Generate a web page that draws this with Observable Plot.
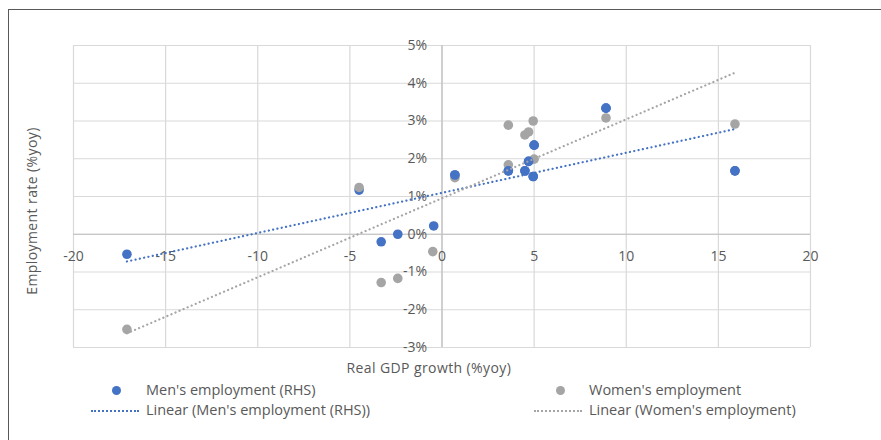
<!DOCTYPE html>
<html>
<head>
<meta charset="utf-8">
<script src="https://cdn.jsdelivr.net/npm/d3@7"></script>
<script src="https://cdn.jsdelivr.net/npm/@observablehq/plot@0.6"></script>
<style>
  html, body { margin: 0; padding: 0; background: #fff; }
  #chart { position: relative; width: 881px; height: 440px; overflow: hidden; font-family: "Open Sans", "Noto Sans", sans-serif; color: #595959; }
  #frame { position: absolute; left: 8px; top: 9px; width: 900px; height: 460px; border: 1px solid #595959; box-sizing: border-box; }
  #chart svg { position: absolute; left: 0; top: 0; }
  .leg { position: absolute; font-size: 14.5px; line-height: 18px; white-space: nowrap; }
  .dot { position: absolute; width: 9px; height: 9px; border-radius: 50%; }
  .dash { position: absolute; height: 0; border-top: 2px dotted; width: 48px; }
  .title { position: absolute; font-size: 14px; line-height: 18px; white-space: nowrap; letter-spacing: 0.4px; }
</style>
</head>
<body>
<div id="chart"><div id="frame"></div></div>
<script>
// Real GDP growth (%yoy) vs employment growth (%yoy)
const menGdp = [-17.1, -4.5, -3.3, -2.4, -0.45, 0.7, 3.6, 4.5, 4.7, 5.0, 4.95, 8.9, 15.9];
const menEmp = [-0.53, 1.17, -0.2, 0.0, 0.22, 1.57, 1.68, 1.68, 1.93, 2.36, 1.53, 3.34, 1.68];

const womenGdp = [-17.1, -4.5, -3.3, -2.4, -0.5, 0.7, 3.6, 3.6, 4.5, 4.7, 4.95, 5.0, 8.9, 15.9];
const womenEmp = [-2.52, 1.24, -1.28, -1.17, -0.46, 1.5, 2.89, 1.84, 2.63, 2.71, 3.0, 1.99, 3.08, 2.92];

const xTicks = [-20, -15, -10, -5, 0, 5, 10, 15, 20];
const yTicks = [-3, -2, -1, 0, 1, 2, 3, 4, 5];

const menColor = "#4472c4";
const womenColor = "#a5a5a5";
const textColor = "#595959";

const men = menGdp.map((x, i) => ({x, y: menEmp[i]}));
const women = womenGdp.map((x, i) => ({x, y: womenEmp[i]}));

const dotted = {strokeWidth: 2.2, strokeDasharray: "0.1,4.3", strokeLinecap: "round"};

const chart = Plot.plot({
  width: 881,
  height: 440,
  marginLeft: 73,
  marginRight: 71,
  marginTop: 45,
  marginBottom: 93,
  style: {fontFamily: "'Open Sans', 'Noto Sans', sans-serif", background: "transparent"},
  x: {domain: [-20, 20], axis: null},
  y: {domain: [-3, 5], axis: null},
  marks: [
    Plot.ruleX(xTicks, {stroke: "#d9d9d9", strokeWidth: 1.2}),
    Plot.ruleY(yTicks, {stroke: "#d9d9d9", strokeWidth: 1.2}),
    Plot.ruleX([0], {stroke: "#bfbfbf", strokeWidth: 1.2}),
    Plot.ruleY([0], {stroke: "#bfbfbf", strokeWidth: 1.2}),
    Plot.text(xTicks, {x: d => d, y: 0, dy: 22, text: d => String(d), fill: textColor, fontSize: 14}),
    Plot.text(yTicks, {x: 0, y: d => d, dx: -15, textAnchor: "end", text: d => d + "%", fill: textColor, fontSize: 14}),
    Plot.dot(men, {x: "x", y: "y", r: 4.8, fill: menColor}),
    Plot.dot(women, {x: "x", y: "y", r: 4.8, fill: womenColor}),
    Plot.dot(men, {x: "x", y: "y", r: 4.8, fill: menColor, filter: (d, i) => i >= 5}),
    Plot.linearRegressionY(men, {x: "x", y: "y", ci: 0, stroke: menColor, ...dotted}),
    Plot.linearRegressionY(women, {x: "x", y: "y", ci: 0, stroke: womenColor, ...dotted})
  ]
});
const host = document.getElementById("chart");
host.appendChild(chart);

// Axis titles
const xTitle = document.createElement("div");
xTitle.className = "title";
xTitle.textContent = "Real GDP growth (%yoy)";
host.appendChild(xTitle);
xTitle.style.left = (429 - xTitle.offsetWidth / 2) + "px";
xTitle.style.top = "359px";

const yTitle = document.createElement("div");
yTitle.className = "title";
yTitle.textContent = "Employment rate (%yoy)";
host.appendChild(yTitle);
const w = yTitle.offsetWidth, h = yTitle.offsetHeight;
yTitle.style.left = (31 - w / 2) + "px";
yTitle.style.top = (211 - h / 2) + "px";
yTitle.style.transform = "rotate(-90deg)";

// Legend
const legendItems = [
  {label: "Men's employment (RHS)", kind: "dot", color: menColor, left: 146, top: 381, mark: 112},
  {label: "Women's employment", kind: "dot", color: womenColor, left: 589, top: 381, mark: 556},
  {label: "Linear (Men's employment (RHS))", kind: "dash", color: menColor, left: 146, top: 401, mark: 91},
  {label: "Linear (Women's employment)", kind: "dash", color: womenColor, left: 589, top: 401, mark: 534}
];
for (const item of legendItems) {
  const sym = document.createElement("div");
  sym.className = item.kind;
  if (item.kind === "dot") {
    sym.style.background = item.color;
    sym.style.left = item.mark + "px";
    sym.style.top = (item.top + 5) + "px";
  } else {
    sym.style.borderTopColor = item.color;
    sym.style.left = item.mark + "px";
    sym.style.top = (item.top + 9) + "px";
  }
  host.appendChild(sym);
  const t = document.createElement("div");
  t.className = "leg";
  t.style.left = item.left + "px";
  t.style.top = item.top + "px";
  t.textContent = item.label;
  host.appendChild(t);
}
</script>
</body>
</html>
